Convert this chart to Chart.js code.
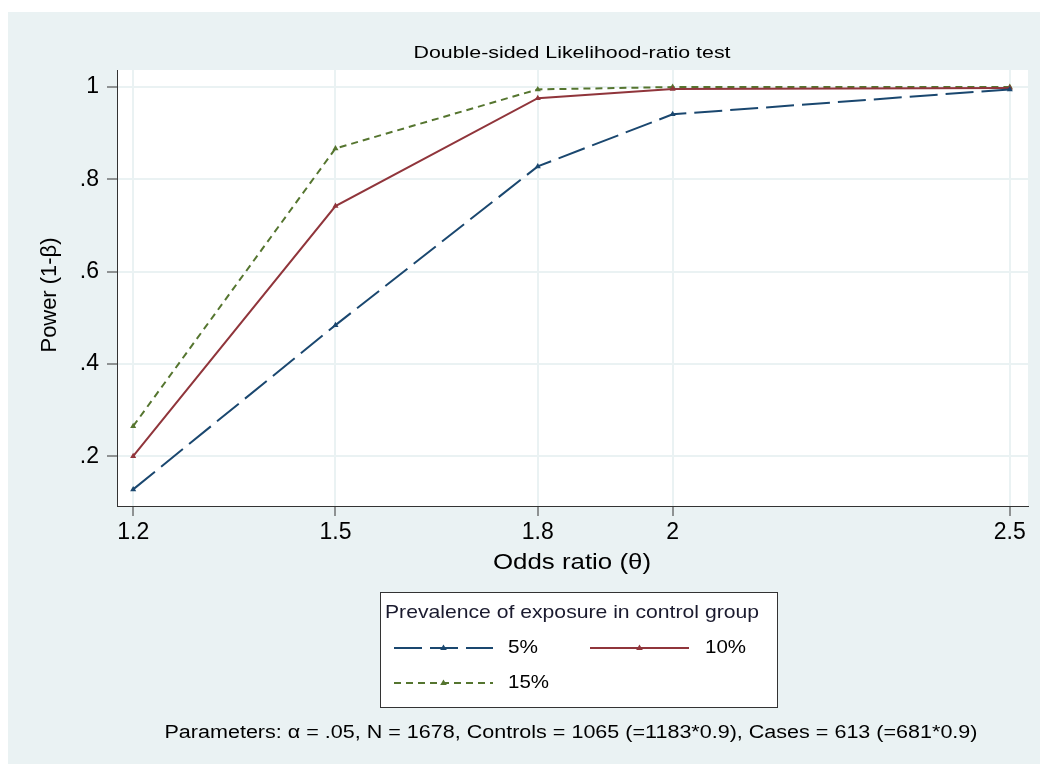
<!DOCTYPE html>
<html>
<head>
<meta charset="utf-8">
<script src="https://cdn.jsdelivr.net/npm/chart.js@4.4.1/dist/chart.umd.min.js"></script>
<style>
  html, body { margin: 0; padding: 0; background: #ffffff; }
  #c { display: block; }
</style>
</head>
<body>
<canvas id="c" width="1040" height="764"></canvas>
<script>
// ---- Data ----
const oddsRatios = [1.2, 1.5, 1.8, 2, 2.5];
const power5  = [0.128, 0.484, 0.828, 0.941, 0.995];
const power10 = [0.200, 0.742, 0.976, 0.996, 0.998];
const power15 = [0.265, 0.867, 0.995, 1.000, 1.000];
const seriesLabels = ['5%', '10%', '15%'];
const xTickValues = [1.2, 1.5, 1.8, 2, 2.5];
const xTickLabels = ['1.2', '1.5', '1.8', '2', '2.5'];
const yTickValues = [0.2, 0.4, 0.6, 0.8, 1];
const yTickLabels = ['.2', '.4', '.6', '.8', '1'];
const chartTitle = 'Double-sided Likelihood-ratio test';
const xTitle = 'Odds ratio (θ)';
const yTitle = 'Power (1-β)';
const legendTitle = 'Prevalence of exposure in control group';
const footnote = 'Parameters: α = .05, N = 1678, Controls = 1065 (=1183*0.9), Cases = 613 (=681*0.9)';

const FONT = '"Liberation Sans", Arial, Helvetica, sans-serif';
const NAVY = '#1A476F', MAROON = '#90353B', GREEN = '#55752F';
const BG = '#EAF2F3';
const GRID = '#EAF2F3';

function pts(ys) { return oddsRatios.map((x, i) => ({ x: x, y: ys[i] })); }

const styles = [
  { color: NAVY, dash: [28, 8] },
  { color: MAROON, dash: [] },
  { color: GREEN, dash: [7, 5] }
];

// draw text with a horizontal stretch so it covers a given width
function textW(ctx, text, x, y, size, width, align) {
  ctx.save();
  ctx.font = size + 'px ' + FONT;
  ctx.textBaseline = 'middle';
  ctx.textAlign = 'left';
  const w = ctx.measureText(text).width;
  const s = width ? width / w : 1;
  let x0 = x;
  if (align === 'center') x0 = x - (w * s) / 2;
  ctx.translate(x0, y);
  ctx.scale(s, 1);
  ctx.fillText(text, 0, 0);
  ctx.restore();
}

function drawTriangle(ctx, x, y, r, color) {
  ctx.save();
  ctx.fillStyle = color;
  ctx.beginPath();
  ctx.moveTo(x, y - r);
  ctx.lineTo(x + r * 0.95, y + r * 0.6);
  ctx.lineTo(x - r * 0.95, y + r * 0.6);
  ctx.closePath();
  ctx.fill();
  ctx.restore();
}

const decorPlugin = {
  id: 'decor',
  beforeDraw(chart) {
    const ctx = chart.ctx;
    const a = chart.chartArea;
    ctx.save();
    ctx.fillStyle = '#ffffff';
    ctx.fillRect(0, 0, chart.width, chart.height);
    ctx.fillStyle = BG;
    ctx.fillRect(8, 12, chart.width - 8, chart.height - 12);
    ctx.fillStyle = '#ffffff';
    ctx.fillRect(a.left, a.top, a.right - a.left, a.bottom - a.top);
    ctx.restore();
  },
  afterDraw(chart) {
    const ctx = chart.ctx;
    ctx.save();
    ctx.fillStyle = '#000000';
    // Title
    textW(ctx, chartTitle, 572, 53, 17, 317, 'center');
    // X title
    textW(ctx, xTitle, 572, 563, 22, 158, 'center');
    // Y title
    ctx.save();
    ctx.translate(50, 295);
    ctx.rotate(-Math.PI / 2);
    textW(ctx, yTitle, 0, 0, 22, 115, 'center');
    ctx.restore();
    // Legend box
    const lx = 380, ly = 592, lw = 397, lh = 115;
    ctx.fillStyle = '#ffffff';
    ctx.fillRect(lx, ly, lw, lh);
    ctx.strokeStyle = '#333333';
    ctx.lineWidth = 1;
    ctx.strokeRect(lx + 0.5, ly + 0.5, lw, lh);
    ctx.fillStyle = '#1a1a2e';
    textW(ctx, legendTitle, 385, 613, 19, 374, 'left');
    const rows = [
      { i: 0, x0: 394, x1: 493, tx: 508, y: 648, w: 30 },
      { i: 1, x0: 590, x1: 689, tx: 705, y: 648, w: 41 },
      { i: 2, x0: 394, x1: 493, tx: 508, y: 683, w: 41 }
    ];
    rows.forEach(r => {
      const s = styles[r.i];
      ctx.save();
      ctx.strokeStyle = s.color;
      ctx.lineWidth = 2;
      ctx.setLineDash(s.dash);
      ctx.beginPath();
      ctx.moveTo(r.x0, r.y);
      ctx.lineTo(r.x1, r.y);
      ctx.stroke();
      ctx.restore();
      drawTriangle(ctx, (r.x0 + r.x1) / 2, r.y, 3.5, s.color);
      ctx.fillStyle = '#000000';
      textW(ctx, seriesLabels[r.i], r.tx, r.y, 19, r.w, 'left');
    });
    // Footnote
    ctx.fillStyle = '#000000';
    textW(ctx, footnote, 571, 733, 18, 813, 'center');
    ctx.restore();
  }
};

const datasets = [power5, power10, power15].map((arr, i) => ({
  label: seriesLabels[i],
  data: pts(arr),
  borderColor: styles[i].color,
  backgroundColor: styles[i].color,
  borderWidth: 2,
  borderDash: styles[i].dash,
  pointStyle: 'triangle',
  pointRadius: 3.5,
  pointHoverRadius: 3.5,
  pointBorderWidth: 0,
  tension: 0,
  fill: false
}));

new Chart(document.getElementById('c'), {
  type: 'line',
  data: { datasets: datasets },
  options: {
    responsive: false,
    devicePixelRatio: 1,
    animation: false,
    layout: { padding: { left: 0, top: 70, right: 12, bottom: 0 } },
    plugins: {
      legend: { display: false },
      title: { display: false },
      tooltip: { enabled: false }
    },
    scales: {
      x: {
        type: 'linear',
        min: 1.176,
        max: 2.527,
        afterBuildTicks(scale) { scale.ticks = xTickValues.map(v => ({ value: v })); },
        afterFit(scale) { scale.height = 258; },
        ticks: {
          callback(v) { const k = xTickValues.indexOf(v); return k >= 0 ? xTickLabels[k] : ''; },
          font: { family: FONT, size: 23 },
          color: '#000000',
          padding: 3,
          maxRotation: 0,
          autoSkip: false
        },
        grid: { color: GRID, lineWidth: 2, tickColor: '#333333', tickLength: 10, tickWidth: 1 },
        border: { color: '#333333', width: 1 }
      },
      y: {
        type: 'linear',
        min: 0.092,
        max: 1.037,
        afterBuildTicks(scale) { scale.ticks = yTickValues.map(v => ({ value: v })); },
        afterFit(scale) { scale.width = 117; },
        ticks: {
          callback(v) { const k = yTickValues.indexOf(v); return k >= 0 ? yTickLabels[k] : ''; },
          font: { family: FONT, size: 23 },
          color: '#000000',
          padding: 8,
          autoSkip: false
        },
        grid: { color: GRID, lineWidth: 2, tickColor: '#333333', tickLength: 10, tickWidth: 1 },
        border: { color: '#333333', width: 1 }
      }
    }
  },
  plugins: [decorPlugin]
});
</script>
</body>
</html>
